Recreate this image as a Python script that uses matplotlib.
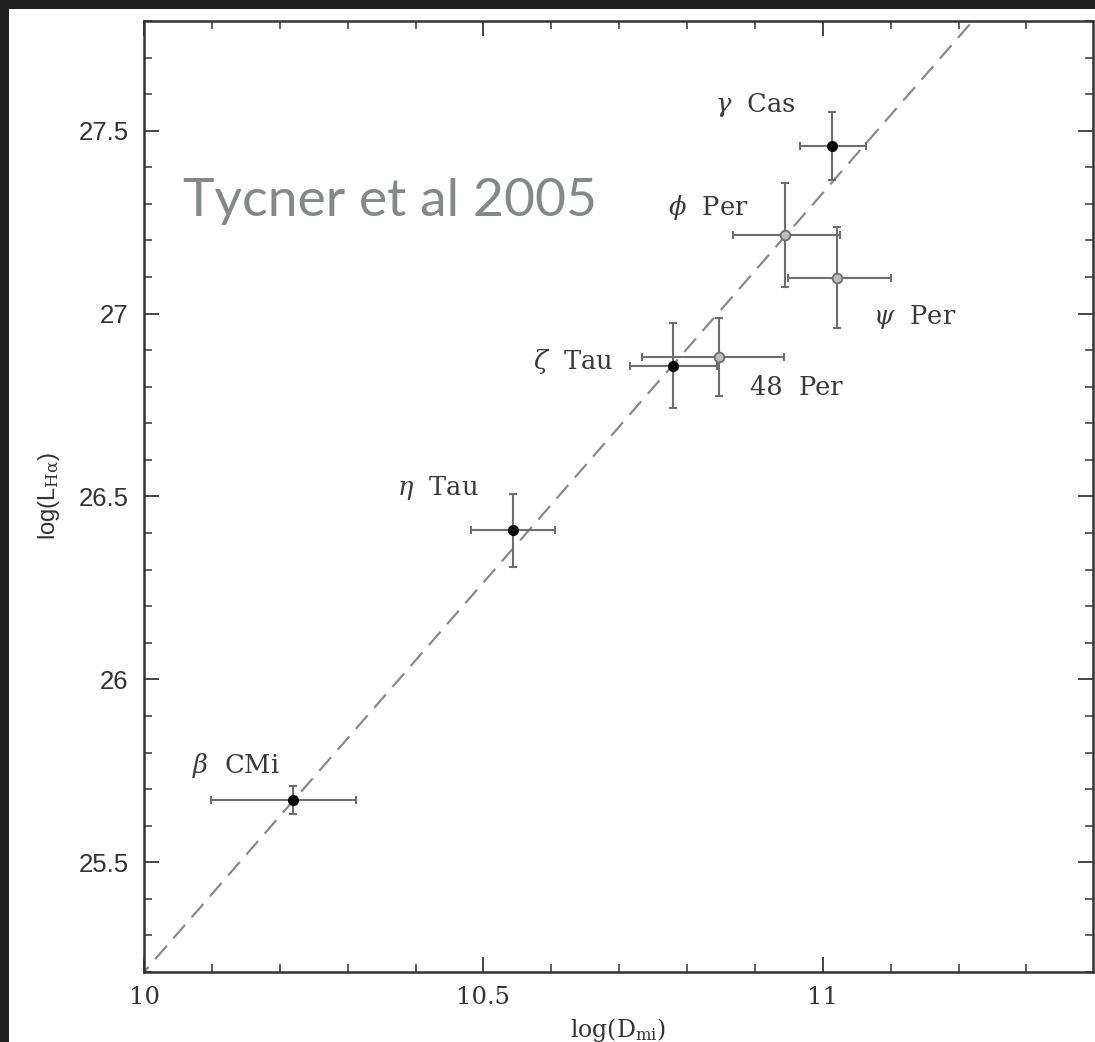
import matplotlib
matplotlib.use('Agg')
from matplotlib import pyplot as plt
from matplotlib.patches import Rectangle
from matplotlib.ticker import MultipleLocator

# star names, disk sizes log(D) and H-alpha luminosities log(L)
names = [r'$\gamma$  Cas', r'$\phi$  Per', r'$\psi$  Per', r'$\zeta$  Tau',
         '48  Per', r'$\eta$  Tau', r'$\beta$  CMi']
log_d = [11.013, 10.944, 11.021, 10.779, 10.847, 10.543, 10.219]
log_l = [27.459, 27.215, 27.098, 26.857, 26.882, 26.408, 25.670]
d_err_lo = [0.047, 0.077, 0.072, 0.063, 0.113, 0.062, 0.121]
d_err_hi = [0.050, 0.081, 0.080, 0.065, 0.096, 0.063, 0.094]
l_err = [0.093, 0.143, 0.138, 0.116, 0.107, 0.100, 0.038]
filled = [True, False, False, True, False, True, True]

# dashed fit line  log(L) = slope * log(D) + intercept
fit_slope = 2.13
fit_intercept = 3.9

# where each name sits relative to its point
label_dx = [-0.172, -0.172, 0.053, -0.206, 0.045, -0.170, -0.148]
label_dy = [0.112, 0.074, -0.107, 0.011, -0.085, 0.115, 0.095]

plt.rcParams['mathtext.fontset'] = 'dejavuserif'

W, H = 1095, 1042
fig = plt.figure(figsize=(W / 100, H / 100), dpi=100)
fig.patch.set_facecolor('#202020')
fig.patches.append(Rectangle((9 / W, 0), 1, 1 - 9 / H, transform=fig.transFigure,
                             facecolor='white', edgecolor='none', zorder=-5))

ax = fig.add_axes([144 / W, 70 / H, (1093 - 144) / W, (972 - 21) / H])
ax.set_xlim(10, 11.398)
ax.set_ylim(25.2, 27.8)

# fit line
fx = [9.9, 11.5]
fy = [fit_slope * v + fit_intercept for v in fx]
ax.plot(fx, fy, linestyle=(0, (8, 4.5)), color='#8a8a8a', linewidth=1.6, zorder=1)

for i in range(len(names)):
    ax.errorbar(log_d[i], log_l[i],
                xerr=[[d_err_lo[i]], [d_err_hi[i]]], yerr=[[l_err[i]], [l_err[i]]],
                fmt='none', ecolor='#6e6e6e', elinewidth=1.5, capsize=3, capthick=1.5,
                zorder=2)
    if filled[i]:
        ax.plot(log_d[i], log_l[i], 'o', color='black', markersize=7, zorder=3)
    else:
        ax.plot(log_d[i], log_l[i], 'o', markerfacecolor='#bdbdbd',
                markeredgecolor='#6e6e6e', markeredgewidth=1.3, markersize=7, zorder=3)
    ax.text(log_d[i] + label_dx[i], log_l[i] + label_dy[i], names[i],
            fontsize=18.5, family='DejaVu Serif', color='#3a3a3a',
            ha='left', va='center')

ax.text(10.057, 27.306, 'Tycner et al 2005', fontsize=38.5, family='Lato',
        color='#848888', ha='left', va='center')

# axes styling: inward ticks on all four sides
for s in ax.spines.values():
    s.set_color('#333333')
    s.set_linewidth(1.8)
ax.xaxis.set_major_locator(MultipleLocator(0.5))
ax.xaxis.set_minor_locator(MultipleLocator(0.1))
ax.yaxis.set_major_locator(MultipleLocator(0.5))
ax.yaxis.set_minor_locator(MultipleLocator(0.1))
ax.tick_params(which='both', direction='in', top=True, right=True, colors='#444444')
ax.tick_params(which='major', length=11, width=1.4)
ax.tick_params(which='minor', length=6, width=1.2)
ax.tick_params(axis='x', pad=10)
ax.tick_params(axis='y', pad=11)
ax.set_xticks([10, 10.5, 11])
ax.set_xticklabels(['10', '10.5', '11'], family='DejaVu Serif', fontsize=17.5, color='#333333')
ax.set_yticks([25.5, 26, 26.5, 27, 27.5])
ax.set_yticklabels(['25.5', '26', '26.5', '27', '27.5'], family='Liberation Sans',
                   fontsize=18.5, color='#333333')

ax.set_xlabel(r'log(D$_{\rm mi}$)', family='DejaVu Serif', fontsize=17,
              color='#333333', labelpad=5)
ax.set_ylabel(r'log(L$_{\rm H\alpha}$)', family='Liberation Sans', fontsize=17,
              color='#333333', labelpad=12)

plt.savefig('out.png', dpi=100)
